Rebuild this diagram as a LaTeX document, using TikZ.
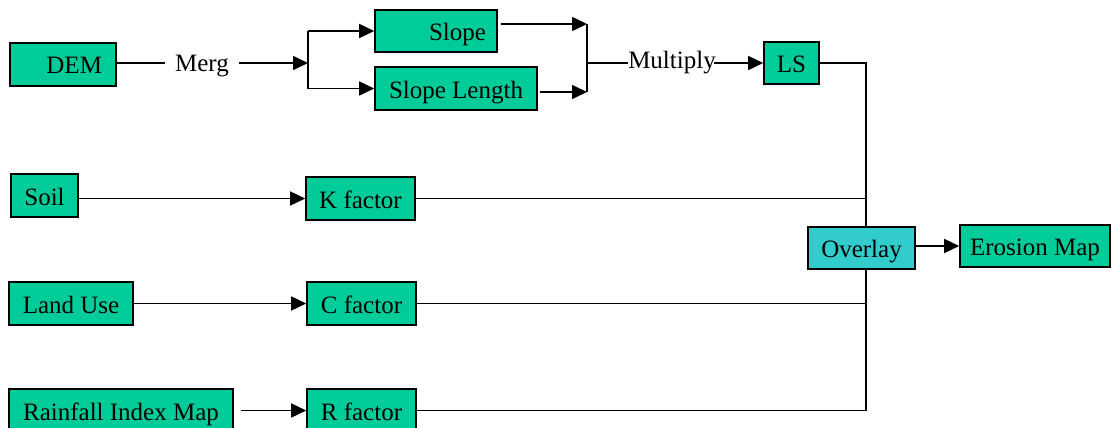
\documentclass[tikz,border=0pt]{standalone}
\usepackage{fontspec}
\setmainfont{Liberation Serif}
\usetikzlibrary{arrows.meta}
\definecolor{boxgreen}{RGB}{0,204,153}
\definecolor{boxcyan}{RGB}{51,204,204}
\begin{document}
\begin{tikzpicture}[x=1pt,y=-1pt,
  every node/.style={font=\rmfamily\fontsize{25}{30}\selectfont},
  factor/.style={draw=black,line width=1.6pt,fill=boxgreen,minimum height=43pt,inner sep=0pt,
    text height=22pt,text depth=3pt},
  label text/.style={inner sep=0pt},
  flow/.style={line width=1.6pt},
  arr/.style={flow,-{Triangle[length=15pt,width=14pt]}}]
\useasboundingbox (0,0) rectangle (1111,428);

% input and intermediate boxes
\node[factor,minimum width=106pt,text width=78pt,inner xsep=14pt,align=right] (dem) at (63,64.5) {DEM};
\node[factor,minimum width=122pt,minimum height=42pt,text width=100pt,inner xsep=11pt,align=right] (slope) at (436,31) {Slope};
\node[factor,minimum width=162pt] (slen) at (456,88.5) {Slope Length};
\node[factor,minimum width=55pt,minimum height=42pt] (ls) at (791.5,63) {LS};
\node[factor,minimum width=67pt] (soil) at (44.5,195.5) {Soil};
\node[factor,minimum width=109pt] (kf) at (360.5,198.5) {K factor};
\node[factor,minimum width=124pt] (land) at (71,303.5) {Land Use};
\node[factor,minimum width=109pt] (cf) at (361.5,303.5) {C factor};
\node[factor,minimum width=224pt] (rain) at (121,410.5) {Rainfall Index Map};
\node[factor,minimum width=109pt] (rf) at (361.5,410.5) {R factor};
\node[factor,fill=boxcyan,minimum width=107pt,minimum height=42pt] (ovl) at (861.5,248) {Overlay};
\node[factor,minimum width=150pt,minimum height=42pt] (ero) at (1035,246) {Erosion Map};

% operation labels
\node[label text,inner xsep=10pt,text height=20pt,text depth=2pt] (merg) at (202,63) {Merg};
\node[label text,text height=17pt,text depth=5pt] (mult) at (672,63) {Multiply};

% junction points
\coordinate (split) at (308,63);
\coordinate (sj) at (587,24);
\coordinate (lj) at (587,92);
\coordinate (mj) at (587,63);
\coordinate (trunk) at (866,63);

% DEM -> slope and slope length
\draw[flow] (merg.west -| dem.east) -- (merg.west);
\draw[arr] (merg.east) -- (split);
\draw[flow] (split |- slope.west) -- (split |- slen.west);
\draw[arr] (split |- slope.west) -- (slope.west);
\draw[arr] (split |- slen.west) -- (slen.west);

% slope and slope length -> multiply -> LS
\draw[arr] ([xshift=3pt]slope.east |- sj) -- (sj);
\draw[arr] ([xshift=2pt]slen.east |- lj) -- (lj);
\draw[flow] (sj) -- (lj);
\draw[flow] (mj) -- (mult.west);
\draw[arr] ([xshift=-2pt]mult.east |- ls.west) -- (ls.west);

% factor chains
\draw[arr] (soil.east |- kf.west) -- (kf.west);
\draw[arr] (land.east) -- (cf.west);
\draw[arr] ([xshift=7pt]rain.east) -- (rf.west);

% trunk into the overlay
\draw[flow] (ls.east) -- (trunk) -- (trunk |- ovl.north);
\draw[flow] (kf.east) -- (kf.east -| trunk);
\draw[flow] (cf.east) -- (cf.east -| trunk);
\draw[flow] (rf.east) -- (rf.east -| trunk) -- (trunk |- ovl.south);

% overlay -> erosion map
\draw[arr] (ovl.east |- ero.west) -- (ero.west);
\end{tikzpicture}
\end{document}
